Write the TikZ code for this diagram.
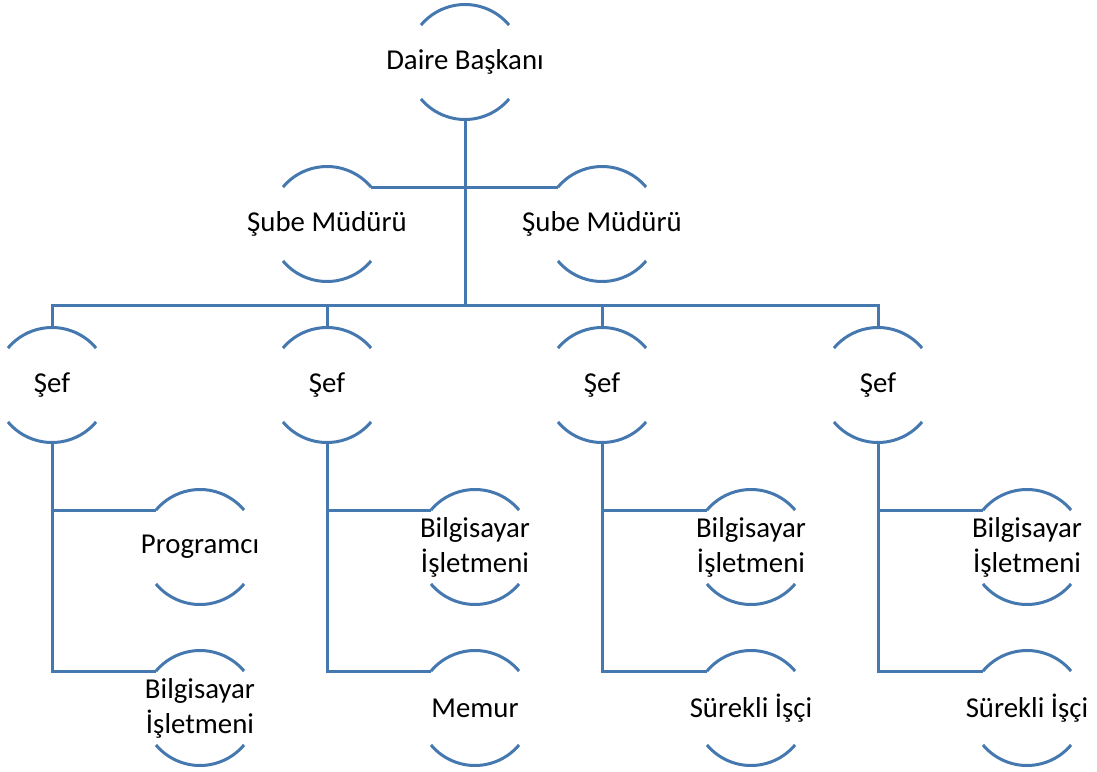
\documentclass[tikz,border=0pt]{standalone}
\usepackage{fontspec}
\setmainfont{Carlito}
\usetikzlibrary{positioning}
\definecolor{orgblue}{RGB}{70,120,176}

\begin{document}
\begin{tikzpicture}[
    x=1pt, y=1pt,
    member/.style={circle, minimum size=115pt, inner sep=0pt, outer sep=0pt},
    role/.style={font=\fontsize{28.8}{35}\selectfont, align=center, inner sep=0pt},
    link/.style={draw=orgblue, line width=3pt}
]
    \useasboundingbox (0,0) rectangle (1097,-771);

    % Top
    \node[member, label={[role]center:Daire Başkanı}] (dab) at (465,-62) {};

    % Branch managers
    \node[member, label={[role]center:Şube Müdürü}] (sube1) at (327,-224) {};
    \node[member, label={[role]center:Şube Müdürü}] (sube2) at (602,-224) {};

    % Chiefs
    \foreach \i/\x in {1/52, 2/327, 3/602, 4/878}
        \node[member, label={[role]center:Şef}] (sef\i) at (\x,-385) {};

    % Staff
    \node[member, label={[role]center:Programcı}] (prog1) at (200,-547) {};
    \node[member, label={[role]center:Bilgisayar\\İşletmeni}] (bil1) at (200,-708) {};
    \node[member, label={[role]center:Bilgisayar\\İşletmeni}] (bil2) at (475,-547) {};
    \node[member, label={[role]center:Memur}] (mem2) at (475,-708) {};
    \node[member, label={[role]center:Bilgisayar\\İşletmeni}] (bil3) at (751,-547) {};
    \node[member, label={[role]center:Sürekli İşçi}] (isci3) at (751,-708) {};
    \node[member, label={[role]center:Bilgisayar\\İşletmeni}] (bil4) at (1027,-547) {};
    \node[member, label={[role]center:Sürekli İşçi}] (isci4) at (1027,-708) {};

    % Arcs of the circles
    \foreach \n in {dab, sube1, sube2, sef1, sef2, sef3, sef4,
                    prog1, bil1, bil2, mem2, bil3, isci3, bil4, isci4} {
        \draw[link] (\n.40) arc[start angle=40, end angle=140, radius=57.5pt];
        \draw[link] (\n.220) arc[start angle=220, end angle=320, radius=57.5pt];
    }

    % Connectors
    \coordinate (bus) at (465,-305);
    \draw[link] (dab.south) -- (bus);
    \draw[link] (sube1.40) -- (sube2.140);
    \foreach \i in {1,...,4}
        \draw[link] (sef\i.north) |- (bus);
    \draw[link] (sef1.south) |- (prog1.140);
    \draw[link] (sef1.south) |- (bil1.140);
    \draw[link] (sef2.south) |- (bil2.140);
    \draw[link] (sef2.south) |- (mem2.140);
    \draw[link] (sef3.south) |- (bil3.140);
    \draw[link] (sef3.south) |- (isci3.140);
    \draw[link] (sef4.south) |- (bil4.140);
    \draw[link] (sef4.south) |- (isci4.140);
\end{tikzpicture}
\end{document}
